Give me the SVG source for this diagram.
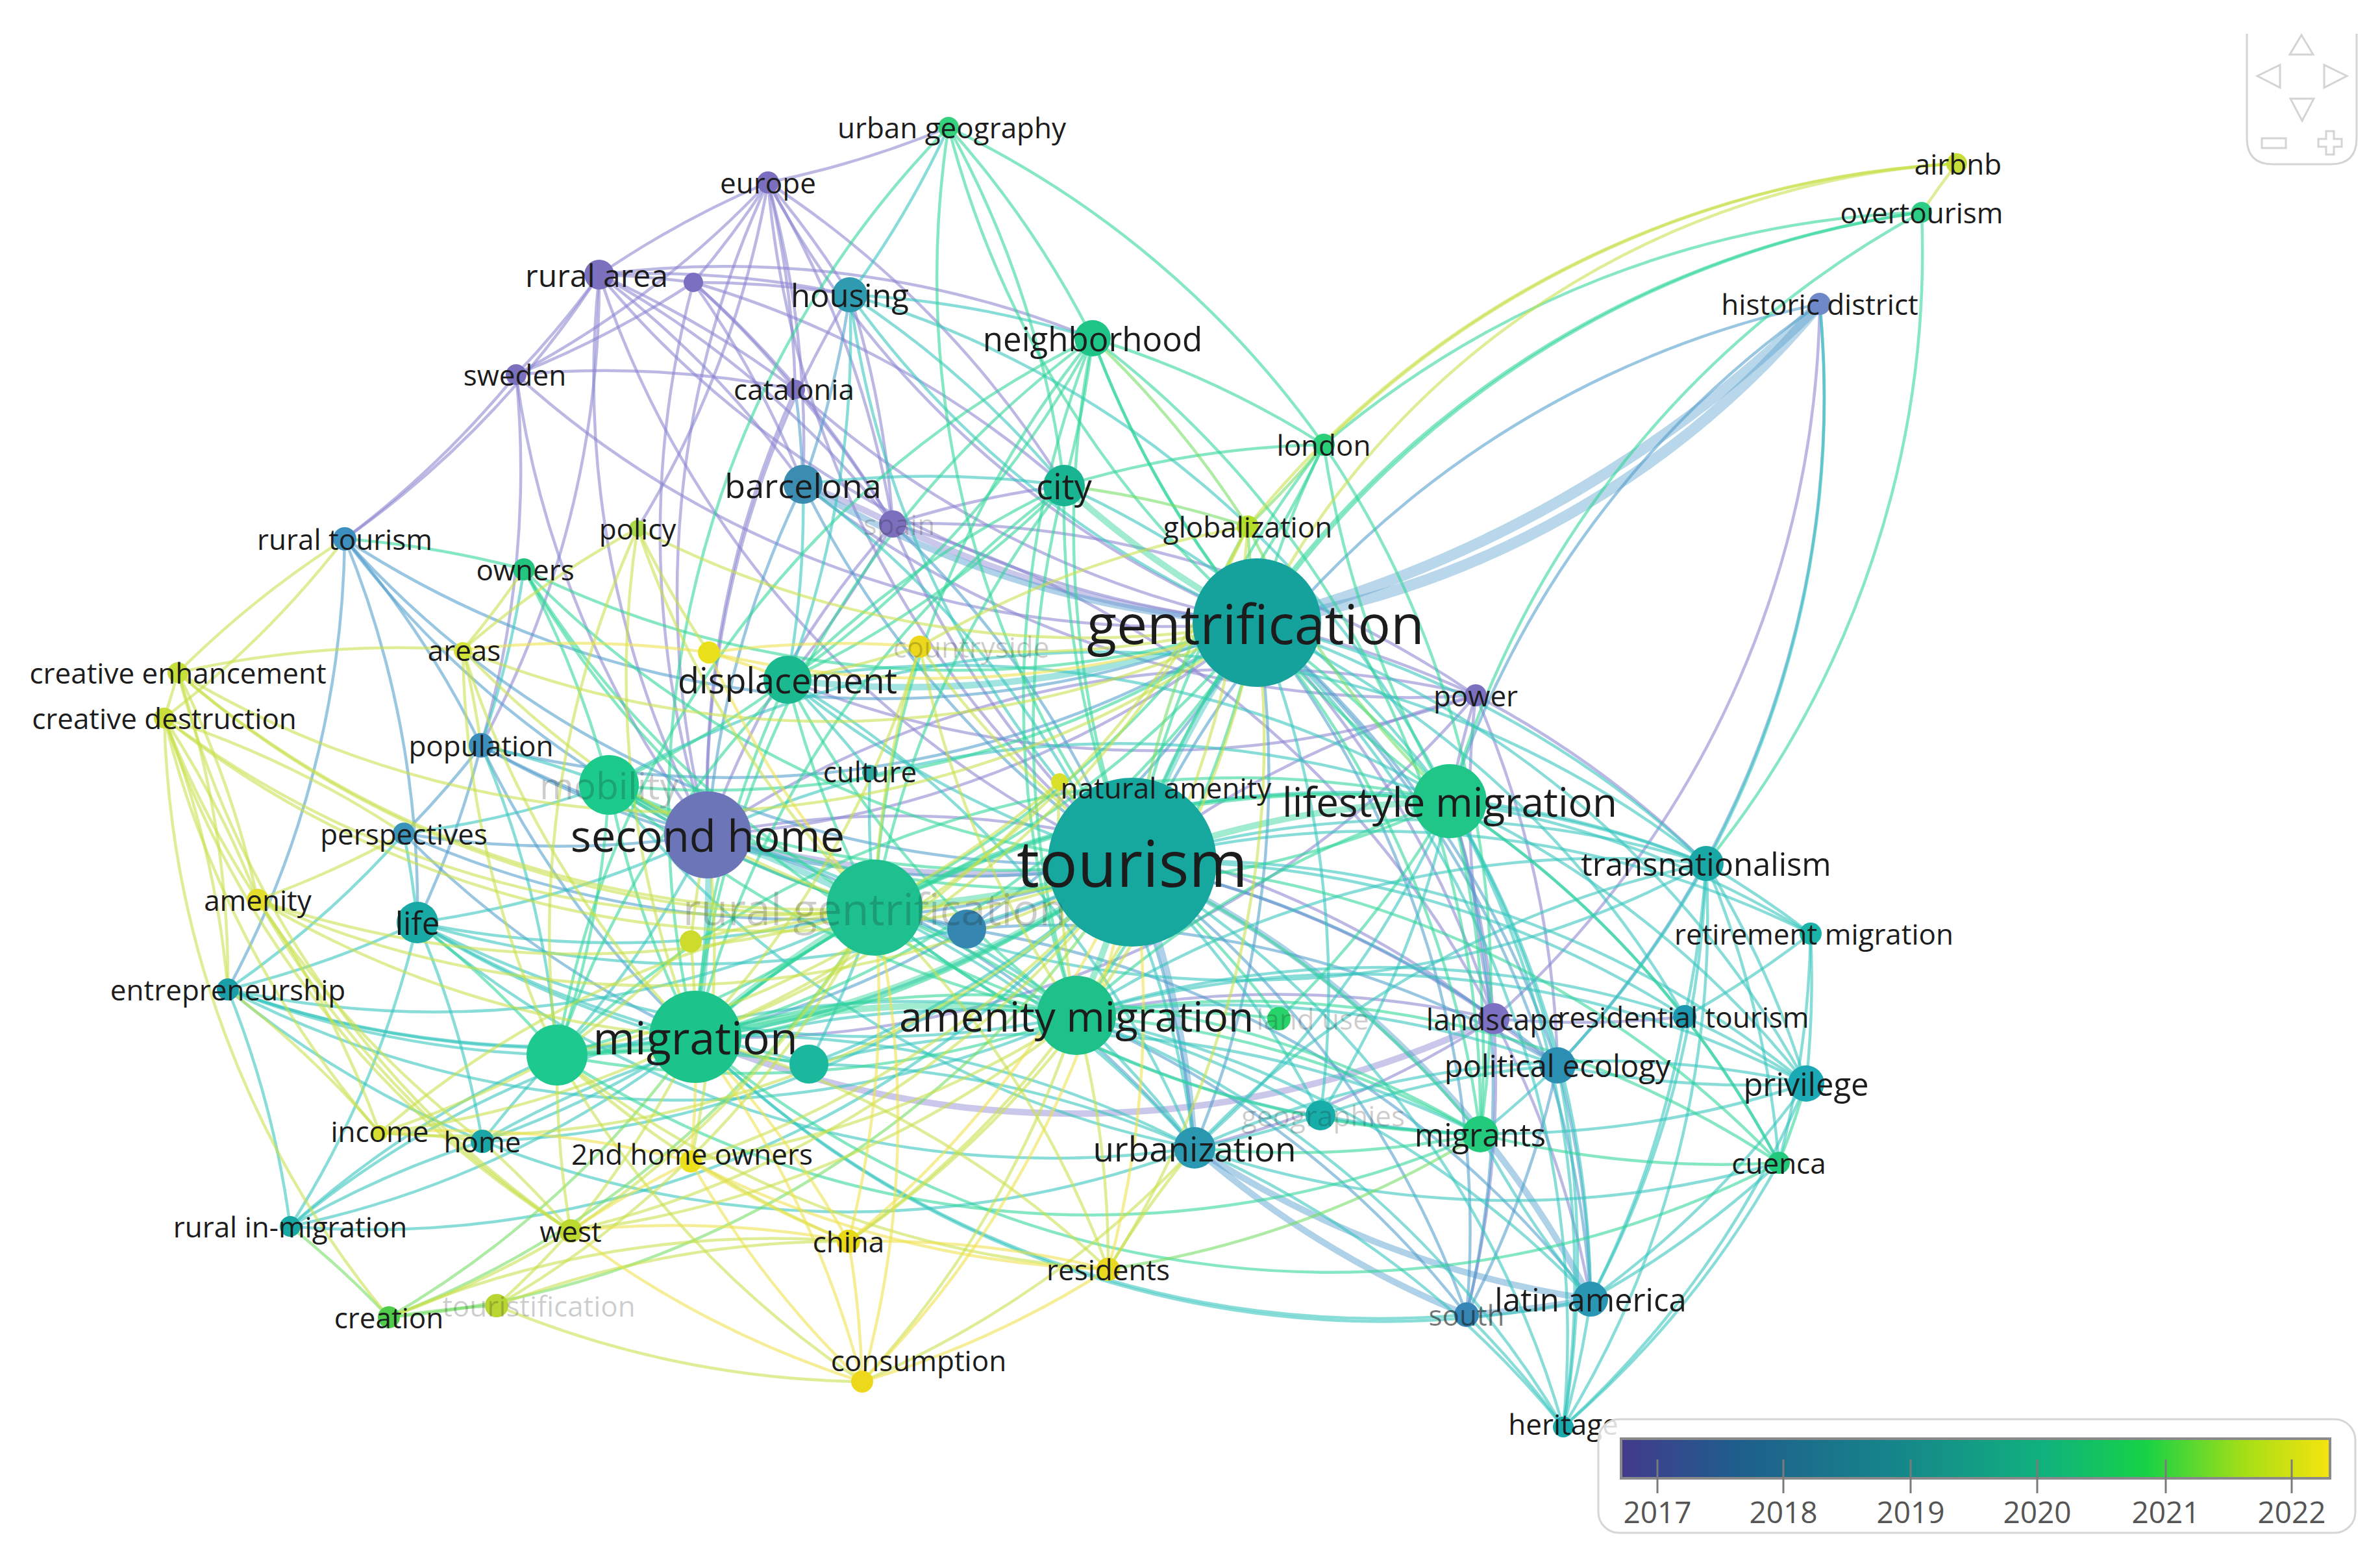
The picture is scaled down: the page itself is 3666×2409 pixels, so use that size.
<svg xmlns="http://www.w3.org/2000/svg" width="3666" height="2409" viewBox="0 0 3666 2409">
<defs>
<linearGradient id="vir" x1="0" y1="0" x2="1" y2="0">
<stop offset="0" stop-color="#433a8c"/>
<stop offset="0.16" stop-color="#1f5d8c"/>
<stop offset="0.4" stop-color="#15888a"/>
<stop offset="0.6" stop-color="#10b27c"/>
<stop offset="0.74" stop-color="#16d246"/>
<stop offset="0.88" stop-color="#a6de16"/>
<stop offset="1" stop-color="#f6e40e"/>
</linearGradient>
<style>
.edges path{fill:none;stroke-width:4.5;stroke-opacity:.58;stroke-linecap:round}
.ep path{stroke:#8a84d0}
.eb path{stroke:#4f9ccb}
.et path{stroke:#33c4bd}
.eg path{stroke:#2fd597}
.el path{stroke:#74dd62}
.ey path{stroke:#c8e04a}
.eyy path{stroke:#eee24a}
.edges path.w{stroke-width:10;stroke-opacity:.45}
.edges path.ww{stroke-width:17;stroke-opacity:.4}
text{font-family:"Open Sans","Noto Sans","Liberation Sans",sans-serif;fill:#1c1c1c;text-anchor:middle;dominant-baseline:central}
.s{font-size:44px}
.m{font-size:49px}
.f{fill-opacity:.22}
.g{fill-opacity:.6}
.lg{font-size:46px;fill:#555}
.nav{fill:none;stroke:#d4d4d4;stroke-width:3}
</style>
</defs>
<rect width="3666" height="2409" fill="#ffffff"/>
<g id="connectors" class="edges">
<g class="ep">
<path d="M1744 1328A1500 1500 0 0 1 1183 281"/>
<path d="M1744 1328A1500 1500 0 0 1 923 423"/>
<path d="M1744 1328A1500 1500 0 0 1 1375 807"/>
<path d="M1744 1328A1500 1500 0 0 1 2273 1071"/>
<path class="w" d="M1744 1328A1500 1500 0 0 1 1090 1286"/>
<path d="M1744 1328A1500 1500 0 0 1 2301 1569"/>
<path d="M1936 959A1500 1500 0 0 1 1183 281"/>
<path d="M1936 959A1500 1500 0 0 1 923 423"/>
<path d="M1936 959A1500 1500 0 0 1 795 577"/>
<path d="M1936 959A1500 1500 0 0 1 1225 600"/>
<path class="w" d="M1936 959A1500 1500 0 0 1 1375 807"/>
<path d="M1936 959A1500 1500 0 0 1 2273 1071"/>
<path d="M1936 959A1500 1500 0 0 1 1090 1286"/>
<path d="M1936 959A1500 1500 0 0 1 2301 1569"/>
<path d="M1090 1286A1500 1500 0 0 1 923 423"/>
<path d="M1090 1286A1500 1500 0 0 1 1183 281"/>
<path d="M1090 1286A1500 1500 0 0 1 795 577"/>
<path d="M1090 1286A1500 1500 0 0 1 1225 600"/>
<path d="M1090 1286A1500 1500 0 0 1 1068 435"/>
<path d="M1090 1286A1500 1500 0 0 1 1375 807"/>
<path d="M1090 1286A1500 1500 0 0 1 1309 454"/>
<path d="M1090 1286A1500 1500 0 0 1 2301 1569"/>
<path d="M1090 1286A1500 1500 0 0 1 2273 1071"/>
<path d="M923 423A1500 1500 0 0 1 1183 281"/>
<path d="M923 423A1500 1500 0 0 1 1068 435"/>
<path d="M923 423A1500 1500 0 0 1 795 577"/>
<path d="M923 423A1500 1500 0 0 1 1309 454"/>
<path d="M923 423A1500 1500 0 0 1 1225 600"/>
<path d="M923 423A1500 1500 0 0 1 1237 746"/>
<path d="M923 423A1500 1500 0 0 1 1375 807"/>
<path d="M923 423A1500 1500 0 0 1 531 830"/>
<path d="M923 423A1500 1500 0 0 1 741 1148"/>
<path d="M923 423A1500 1500 0 0 1 1683 521"/>
<path d="M1183 281A1500 1500 0 0 1 1068 435"/>
<path d="M1183 281A1500 1500 0 0 1 1309 454"/>
<path d="M1183 281A1500 1500 0 0 1 795 577"/>
<path d="M1183 281A1500 1500 0 0 1 1225 600"/>
<path d="M1183 281A1500 1500 0 0 1 1375 807"/>
<path d="M1183 281A1500 1500 0 0 1 1237 746"/>
<path d="M1183 281A1500 1500 0 0 1 1639 748"/>
<path d="M1183 281A1500 1500 0 0 1 982 814"/>
<path d="M1068 435A1500 1500 0 0 1 1309 454"/>
<path d="M1068 435A1500 1500 0 0 1 795 577"/>
<path d="M1068 435A1500 1500 0 0 1 1225 600"/>
<path d="M1068 435A1500 1500 0 0 1 1375 807"/>
<path d="M1068 435A1500 1500 0 0 1 1237 746"/>
<path d="M1068 435A1500 1500 0 0 1 1639 748"/>
<path d="M795 577A1500 1500 0 0 1 531 830"/>
<path d="M795 577A1500 1500 0 0 1 1225 600"/>
<path d="M795 577A1500 1500 0 0 1 741 1148"/>
<path d="M1225 600A1500 1500 0 0 1 1375 807"/>
<path d="M1309 454A1500 1500 0 0 1 1375 807"/>
<path class="w" d="M1237 746A1500 1500 0 0 1 1375 807"/>
<path d="M1375 807A1500 1500 0 0 1 1213 1047"/>
<path d="M1375 807A1500 1500 0 0 1 2273 1071"/>
<path d="M1375 807A1500 1500 0 0 1 2301 1569"/>
<path d="M1375 807A1500 1500 0 0 1 1639 748"/>
<path d="M1461 196A1500 1500 0 0 1 1183 281"/>
<path d="M2803 468A1500 1500 0 0 1 2301 1569"/>
<path d="M2233 1234A1500 1500 0 0 1 2301 1569"/>
<path d="M2233 1234A1500 1500 0 0 1 2273 1071"/>
<path d="M1658 1564A1500 1500 0 0 1 2301 1569"/>
<path d="M2595 1566A1500 1500 0 0 1 2301 1569"/>
<path d="M2399 1641A1500 1500 0 0 1 2301 1569"/>
<path d="M2301 1569A1500 1500 0 0 1 2273 1071"/>
<path d="M2301 1569A1500 1500 0 0 1 1840 1768"/>
<path class="w" d="M2301 1569A1500 1500 0 0 1 1071 1597"/>
<path d="M2301 1569A1500 1500 0 0 1 2450 2001"/>
<path d="M2301 1569A1500 1500 0 0 1 2259 2025"/>
<path d="M2273 1071A1500 1500 0 0 1 1213 1047"/>
<path d="M2273 1071A1500 1500 0 0 1 1237 746"/>
<path d="M2273 1071A1500 1500 0 0 1 1071 1597"/>
<path d="M2273 1071A1500 1500 0 0 1 2399 1641"/>
<path d="M2273 1071A1500 1500 0 0 1 2628 1330"/>
</g>
<g class="eb">
<path d="M1744 1328A1500 1500 0 0 1 1237 746"/>
<path d="M1744 1328A1500 1500 0 0 1 531 830"/>
<path d="M1744 1328A1500 1500 0 0 1 741 1148"/>
<path d="M1744 1328A1500 1500 0 0 1 622 1284"/>
<path d="M1744 1328A1500 1500 0 0 1 1489 1431"/>
<path d="M1744 1328A1500 1500 0 0 1 2399 1641"/>
<path class="w" d="M1744 1328A1500 1500 0 0 1 1840 1768"/>
<path class="w" d="M1744 1328A1500 1500 0 0 1 2450 2001"/>
<path d="M1744 1328A1500 1500 0 0 1 2259 2025"/>
<path d="M1744 1328A1500 1500 0 0 1 2803 468"/>
<path class="w" d="M1936 959A1500 1500 0 0 1 1237 746"/>
<path d="M1936 959A1500 1500 0 0 1 531 830"/>
<path d="M1936 959A1500 1500 0 0 1 741 1148"/>
<path d="M1936 959A1500 1500 0 0 1 1489 1431"/>
<path d="M1936 959A1500 1500 0 0 1 2399 1641"/>
<path d="M1936 959A1500 1500 0 0 1 1840 1768"/>
<path d="M1936 959A1500 1500 0 0 1 2450 2001"/>
<path d="M1936 959A1500 1500 0 0 1 2259 2025"/>
<path class="ww" d="M1936 959A1400 1400 0 0 0 2803 468"/>
<path class="ww" d="M1936 959A1900 1900 0 0 0 2803 468"/>
<path d="M1090 1286A1500 1500 0 0 1 741 1148"/>
<path d="M1090 1286A1500 1500 0 0 1 531 830"/>
<path d="M1090 1286A1500 1500 0 0 1 622 1284"/>
<path d="M1090 1286A1500 1500 0 0 1 1237 746"/>
<path d="M1090 1286A1500 1500 0 0 1 1840 1768"/>
<path d="M1071 1597A1500 1500 0 0 1 622 1284"/>
<path d="M1071 1597A1500 1500 0 0 1 741 1148"/>
<path d="M1347 1398A1500 1500 0 0 1 1489 1431"/>
<path d="M1658 1564A1500 1500 0 0 1 2259 2025"/>
<path d="M2233 1234A1500 1500 0 0 1 2259 2025"/>
<path d="M2233 1234A1500 1500 0 0 1 2803 468"/>
<path d="M1225 600A1500 1500 0 0 1 1237 746"/>
<path d="M1309 454A1500 1500 0 0 1 1237 746"/>
<path d="M1375 807A1500 1500 0 0 1 1840 1768"/>
<path d="M2803 468A1500 1500 0 0 1 2399 1641"/>
<path d="M531 830A1500 1500 0 0 1 351 1524"/>
<path d="M531 830A1500 1500 0 0 1 741 1148"/>
<path d="M531 830A1500 1500 0 0 1 643 1421"/>
<path d="M741 1148A1500 1500 0 0 1 622 1284"/>
<path d="M741 1148A1500 1500 0 0 1 643 1421"/>
<path d="M2399 1641A1500 1500 0 0 1 2450 2001"/>
<path d="M2399 1641A1500 1500 0 0 1 2259 2025"/>
<path d="M1489 1431A1500 1500 0 0 1 2399 1641"/>
<path d="M1489 1431A1500 1500 0 0 1 938 1209"/>
<path d="M1489 1431A1500 1500 0 0 1 1071 1597"/>
<path d="M1489 1431A1500 1500 0 0 1 2450 2001"/>
<path class="w" d="M2450 2001A1500 1500 0 0 1 2259 2025"/>
<path class="w" d="M2450 2001A1500 1500 0 0 1 1840 1768"/>
<path class="w" d="M2259 2025A1500 1500 0 0 1 1840 1768"/>
</g>
<g class="et">
<path class="w" d="M1744 1328A1500 1500 0 0 1 1936 959"/>
<path d="M1744 1328A1500 1500 0 0 1 1309 454"/>
<path d="M1744 1328A1500 1500 0 0 1 1213 1047"/>
<path d="M1744 1328A1500 1500 0 0 1 2628 1330"/>
<path d="M1744 1328A1500 1500 0 0 1 643 1421"/>
<path d="M1744 1328A1500 1500 0 0 1 2789 1438"/>
<path d="M1744 1328A1500 1500 0 0 1 351 1524"/>
<path d="M1744 1328A1500 1500 0 0 1 2595 1566"/>
<path d="M1744 1328A1500 1500 0 0 1 1246 1639"/>
<path d="M1744 1328A1500 1500 0 0 1 2782 1669"/>
<path d="M1744 1328A1500 1500 0 0 1 2034 1718"/>
<path d="M1744 1328A1500 1500 0 0 1 743 1758"/>
<path d="M1744 1328A1500 1500 0 0 1 447 1889"/>
<path d="M1744 1328A1500 1500 0 0 1 2408 2198"/>
<path d="M1936 959A1500 1500 0 0 1 1309 454"/>
<path class="w" d="M1936 959A1500 1500 0 0 1 1213 1047"/>
<path d="M1936 959A1500 1500 0 0 1 2628 1330"/>
<path d="M1936 959A1500 1500 0 0 1 2595 1566"/>
<path d="M1936 959A1500 1500 0 0 1 2782 1669"/>
<path d="M1936 959A1500 1500 0 0 1 2034 1718"/>
<path d="M1936 959A1500 1500 0 0 1 2408 2198"/>
<path class="w" d="M1090 1286A1500 1500 0 0 1 1347 1398"/>
<path class="w" d="M1090 1286A1500 1500 0 0 1 1071 1597"/>
<path d="M1090 1286A1500 1500 0 0 1 858 1625"/>
<path d="M1090 1286A1500 1500 0 0 1 643 1421"/>
<path d="M1090 1286A1500 1500 0 0 1 1658 1564"/>
<path d="M1090 1286A1500 1500 0 0 1 2233 1234"/>
<path d="M1071 1597A1500 1500 0 0 1 643 1421"/>
<path d="M1071 1597A1500 1500 0 0 1 743 1758"/>
<path d="M1071 1597A1500 1500 0 0 1 351 1524"/>
<path d="M1071 1597A1500 1500 0 0 1 447 1889"/>
<path d="M1071 1597A1500 1500 0 0 1 1840 1768"/>
<path d="M1071 1597A1500 1500 0 0 1 1246 1639"/>
<path d="M1071 1597A1500 1500 0 0 1 2628 1330"/>
<path d="M1347 1398A1500 1500 0 0 1 1340 1190"/>
<path d="M1347 1398A1500 1500 0 0 1 351 1524"/>
<path d="M1347 1398A1500 1500 0 0 1 643 1421"/>
<path d="M1347 1398A1500 1500 0 0 1 1840 1768"/>
<path d="M1347 1398A1500 1500 0 0 1 1246 1639"/>
<path d="M1658 1564A1500 1500 0 0 1 1840 1768"/>
<path d="M1658 1564A1500 1500 0 0 1 2399 1641"/>
<path d="M1658 1564A1500 1500 0 0 1 2450 2001"/>
<path d="M1658 1564A1500 1500 0 0 1 2782 1669"/>
<path d="M1658 1564A1500 1500 0 0 1 2628 1330"/>
<path d="M1658 1564A1500 1500 0 0 1 2034 1718"/>
<path d="M1658 1564A1500 1500 0 0 1 2408 2198"/>
<path d="M1658 1564A1500 1500 0 0 1 2595 1566"/>
<path d="M2233 1234A1500 1500 0 0 1 2628 1330"/>
<path d="M2233 1234A1500 1500 0 0 1 2789 1438"/>
<path d="M2233 1234A1500 1500 0 0 1 2595 1566"/>
<path d="M2233 1234A1500 1500 0 0 1 2782 1669"/>
<path d="M2233 1234A1500 1500 0 0 1 2450 2001"/>
<path d="M2233 1234A1500 1500 0 0 1 2399 1641"/>
<path d="M2233 1234A1500 1500 0 0 1 2408 2198"/>
<path d="M2233 1234A1500 1500 0 0 1 1840 1768"/>
<path d="M2233 1234A1500 1500 0 0 1 2034 1718"/>
<path d="M1309 454A1500 1500 0 0 1 1683 521"/>
<path d="M1309 454A1500 1500 0 0 1 1639 748"/>
<path d="M1309 454A1500 1500 0 0 1 1213 1047"/>
<path d="M1309 454A1500 1500 0 0 1 2233 1234"/>
<path d="M1237 746A1500 1500 0 0 1 1639 748"/>
<path d="M1237 746A1500 1500 0 0 1 1213 1047"/>
<path d="M1237 746A1500 1500 0 0 1 1840 1768"/>
<path d="M1461 196A1500 1500 0 0 1 1309 454"/>
<path d="M2803 468A1500 1500 0 0 1 2628 1330"/>
<path d="M807 877A1500 1500 0 0 1 741 1148"/>
<path d="M741 1148A1500 1500 0 0 1 938 1209"/>
<path d="M741 1148A1500 1500 0 0 1 858 1625"/>
<path d="M622 1284A1500 1500 0 0 1 643 1421"/>
<path d="M622 1284A1500 1500 0 0 1 351 1524"/>
<path d="M643 1421A1500 1500 0 0 1 351 1524"/>
<path d="M643 1421A1500 1500 0 0 1 743 1758"/>
<path d="M643 1421A1500 1500 0 0 1 447 1889"/>
<path d="M643 1421A1500 1500 0 0 0 1658 1564"/>
<path d="M351 1524A1500 1500 0 0 1 447 1889"/>
<path d="M351 1524A1500 1500 0 0 0 1658 1564"/>
<path d="M447 1889A1500 1500 0 0 1 743 1758"/>
<path d="M447 1889A1500 1500 0 0 1 858 1625"/>
<path d="M447 1889A1500 1500 0 0 1 1658 1564"/>
<path d="M743 1758A1500 1500 0 0 1 858 1625"/>
<path d="M743 1758A1500 1500 0 0 1 1658 1564"/>
<path d="M1213 1047A1500 1500 0 0 1 1340 1190"/>
<path d="M1213 1047A1500 1500 0 0 1 2233 1234"/>
<path d="M1213 1047A1500 1500 0 0 1 1840 1768"/>
<path d="M1639 748A1500 1500 0 0 1 2233 1234"/>
<path d="M938 1209A1500 1500 0 0 1 622 1284"/>
<path d="M938 1209A1500 1500 0 0 0 1840 1768"/>
<path d="M938 1209A1500 1500 0 0 1 2628 1330"/>
<path d="M858 1625A1500 1500 0 0 1 351 1524"/>
<path d="M1246 1639A1500 1500 0 0 1 1840 1768"/>
<path d="M1246 1639A1500 1500 0 0 1 2280 1747"/>
<path d="M1246 1639A1500 1500 0 0 1 643 1421"/>
<path d="M1840 1768A1500 1500 0 0 1 2782 1669"/>
<path d="M1840 1768A1500 1500 0 0 1 2628 1330"/>
<path d="M1840 1768A1500 1500 0 0 1 643 1421"/>
<path d="M1840 1768A1500 1500 0 0 1 351 1524"/>
<path d="M2034 1718A1500 1500 0 0 1 2399 1641"/>
<path d="M2450 2001A1500 1500 0 0 1 1071 1597"/>
<path d="M2259 2025A1500 1500 0 0 1 1071 1597"/>
<path d="M2628 1330A1500 1500 0 0 1 1347 1398"/>
<path d="M2782 1669A1500 1500 0 0 1 1347 1398"/>
<path d="M2740 1791A1500 1500 0 0 1 1840 1768"/>
<path d="M2628 1330A1500 1500 0 0 1 2789 1438"/>
<path d="M2628 1330A1500 1500 0 0 1 2595 1566"/>
<path d="M2628 1330A1500 1500 0 0 1 2782 1669"/>
<path d="M2628 1330A1500 1500 0 0 1 2740 1791"/>
<path d="M2628 1330A1500 1500 0 0 1 2450 2001"/>
<path d="M2628 1330A1500 1500 0 0 1 2399 1641"/>
<path d="M2628 1330A1500 1500 0 0 1 2408 2198"/>
<path d="M2789 1438A1500 1500 0 0 1 2782 1669"/>
<path d="M2789 1438A1500 1500 0 0 1 2595 1566"/>
<path d="M2789 1438A1500 1500 0 0 1 2740 1791"/>
<path d="M2595 1566A1500 1500 0 0 1 2782 1669"/>
<path d="M2595 1566A1500 1500 0 0 1 2450 2001"/>
<path d="M2595 1566A1500 1500 0 0 1 2740 1791"/>
<path d="M2782 1669A1500 1500 0 0 1 2450 2001"/>
<path d="M2782 1669A1500 1500 0 0 1 2408 2198"/>
<path d="M2782 1669A1500 1500 0 0 1 2399 1641"/>
<path d="M2399 1641A1500 1500 0 0 1 2280 1747"/>
<path d="M2399 1641A1500 1500 0 0 1 2408 2198"/>
<path d="M2450 2001A1500 1500 0 0 1 2408 2198"/>
<path d="M2450 2001A1500 1500 0 0 1 2280 1747"/>
<path d="M2259 2025A1500 1500 0 0 1 2408 2198"/>
<path d="M2280 1747A1500 1500 0 0 1 2034 1718"/>
<path d="M2034 1718A1500 1500 0 0 1 1840 1768"/>
<path d="M1840 1768A1500 1500 0 0 1 2408 2198"/>
<path d="M2740 1791A1500 1500 0 0 1 2408 2198"/>
<path d="M2740 1791A1500 1500 0 0 1 2450 2001"/>
</g>
<g class="eg">
<path d="M1744 1328A1500 1500 0 0 1 1461 196"/>
<path d="M1744 1328A1500 1500 0 0 1 1683 521"/>
<path d="M1744 1328A1500 1500 0 0 1 1639 748"/>
<path d="M1744 1328A1500 1500 0 0 1 2039 685"/>
<path d="M1744 1328A1500 1500 0 0 1 807 877"/>
<path d="M1744 1328A1500 1500 0 0 1 938 1209"/>
<path class="w" d="M1744 1328A1500 1500 0 0 1 2233 1234"/>
<path class="w" d="M1744 1328A1500 1500 0 0 1 1347 1398"/>
<path class="w" d="M1744 1328A1500 1500 0 0 1 1658 1564"/>
<path d="M1744 1328A1500 1500 0 0 1 1970 1569"/>
<path class="w" d="M1744 1328A1500 1500 0 0 1 1071 1597"/>
<path d="M1744 1328A1500 1500 0 0 1 858 1625"/>
<path d="M1744 1328A1500 1500 0 0 1 2280 1747"/>
<path d="M1744 1328A1500 1500 0 0 1 2740 1791"/>
<path d="M1744 1328A1500 1500 0 0 1 2960 327"/>
<path d="M1936 959A1500 1500 0 0 1 1461 196"/>
<path d="M1936 959A1500 1500 0 0 1 1683 521"/>
<path class="w" d="M1936 959A1500 1500 0 0 1 1639 748"/>
<path d="M1936 959A1500 1500 0 0 1 2039 685"/>
<path d="M1936 959A1500 1500 0 0 1 807 877"/>
<path d="M1936 959A1500 1500 0 0 1 938 1209"/>
<path d="M1936 959A1500 1500 0 0 1 2233 1234"/>
<path d="M1936 959A1500 1500 0 0 1 1347 1398"/>
<path d="M1936 959A1500 1500 0 0 1 1658 1564"/>
<path d="M1936 959A1500 1500 0 0 1 1071 1597"/>
<path d="M1936 959A1500 1500 0 0 1 2280 1747"/>
<path d="M1936 959A1500 1500 0 0 1 2960 327"/>
<path d="M1090 1286A1500 1500 0 0 1 938 1209"/>
<path class="w" d="M1071 1597A1500 1500 0 0 1 858 1625"/>
<path class="w" d="M1071 1597A1500 1500 0 0 1 1347 1398"/>
<path class="w" d="M1071 1597A1500 1500 0 0 1 1658 1564"/>
<path d="M1071 1597A1500 1500 0 0 1 2233 1234"/>
<path d="M1071 1597A1500 1500 0 0 1 938 1209"/>
<path d="M1071 1597A1500 1500 0 0 1 1683 521"/>
<path d="M1071 1597A1500 1500 0 0 1 1639 748"/>
<path d="M1071 1597A1500 1500 0 0 1 1213 1047"/>
<path d="M1071 1597A1500 1500 0 0 1 2280 1747"/>
<path d="M1347 1398A1500 1500 0 0 1 938 1209"/>
<path d="M1347 1398A1500 1500 0 0 1 858 1625"/>
<path d="M1347 1398A1500 1500 0 0 1 1213 1047"/>
<path d="M1347 1398A1500 1500 0 0 1 1658 1564"/>
<path d="M1347 1398A1500 1500 0 0 1 2233 1234"/>
<path d="M1347 1398A1500 1500 0 0 1 807 877"/>
<path d="M1347 1398A1500 1500 0 0 1 1683 521"/>
<path d="M1347 1398A1500 1500 0 0 1 1639 748"/>
<path d="M1658 1564A1500 1500 0 0 1 2233 1234"/>
<path d="M1658 1564A1500 1500 0 0 1 858 1625"/>
<path d="M1658 1564A1500 1500 0 0 1 1970 1569"/>
<path d="M1658 1564A1500 1500 0 0 1 2280 1747"/>
<path d="M1658 1564A1500 1500 0 0 1 1683 521"/>
<path d="M1658 1564A1500 1500 0 0 1 1639 748"/>
<path d="M1658 1564A1500 1500 0 0 1 2740 1791"/>
<path d="M2233 1234A1500 1500 0 0 1 2740 1791"/>
<path d="M2233 1234A1500 1500 0 0 1 2280 1747"/>
<path d="M2233 1234A1500 1500 0 0 1 2039 685"/>
<path d="M2233 1234A1500 1500 0 0 1 1683 521"/>
<path d="M2233 1234A1500 1500 0 0 1 2960 327"/>
<path d="M2233 1234A1500 1500 0 0 1 938 1209"/>
<path d="M2233 1234A1500 1500 0 0 1 1970 1569"/>
<path d="M1461 196A1500 1500 0 0 1 1683 521"/>
<path d="M1461 196A1500 1500 0 0 1 1639 748"/>
<path d="M1461 196A1500 1500 0 0 1 2039 685"/>
<path d="M1461 196A1500 1500 0 0 0 1071 1597"/>
<path d="M1683 521A1500 1500 0 0 1 1639 748"/>
<path d="M1683 521A1500 1500 0 0 1 2039 685"/>
<path d="M1683 521A1500 1500 0 0 1 1213 1047"/>
<path d="M1683 521A1500 1500 0 0 1 2280 1747"/>
<path d="M1639 748A1500 1500 0 0 1 2039 685"/>
<path d="M1639 748A1500 1500 0 0 1 1213 1047"/>
<path d="M2039 685A1500 1500 0 0 1 2960 327"/>
<path d="M2039 685A1500 1500 0 0 1 1347 1398"/>
<path d="M2039 685A1500 1500 0 0 1 2280 1747"/>
<path d="M2960 327A1500 1500 0 0 1 2628 1330"/>
<path d="M531 830A1500 1500 0 0 1 807 877"/>
<path d="M807 877A1500 1500 0 0 1 938 1209"/>
<path d="M807 877A1500 1500 0 0 0 1658 1564"/>
<path d="M643 1421A1500 1500 0 0 1 858 1625"/>
<path d="M1213 1047A1500 1500 0 0 1 938 1209"/>
<path d="M1213 1047A1500 1500 0 0 0 1658 1564"/>
<path d="M938 1209A1500 1500 0 0 1 858 1625"/>
<path d="M938 1209A1500 1500 0 0 0 1658 1564"/>
<path d="M858 1625A1500 1500 0 0 1 1246 1639"/>
<path d="M858 1625A1500 1500 0 0 1 2233 1234"/>
<path d="M858 1625A1500 1500 0 0 1 1639 748"/>
<path d="M858 1625A1500 1500 0 0 1 1683 521"/>
<path d="M2280 1747A1500 1500 0 0 1 1347 1398"/>
<path d="M2280 1747A1500 1500 0 0 1 858 1625"/>
<path d="M2740 1791A1500 1500 0 0 1 1071 1597"/>
<path d="M2740 1791A1500 1500 0 0 1 2280 1747"/>
<path d="M2782 1669A1500 1500 0 0 1 2740 1791"/>
<path d="M2280 1747A1500 1500 0 0 1 1840 1768"/>
</g>
<g class="el">
<path d="M1744 1328A1500 1500 0 0 1 1922 811"/>
<path d="M1744 1328A1500 1500 0 0 1 599 2029"/>
<path d="M1936 959A1500 1500 0 0 1 1922 811"/>
<path d="M1071 1597A1500 1500 0 0 1 599 2029"/>
<path d="M1347 1398A1500 1500 0 0 1 599 2029"/>
<path d="M2233 1234A1500 1500 0 0 1 1922 811"/>
<path d="M1683 521A1500 1500 0 0 1 1922 811"/>
<path d="M1639 748A1500 1500 0 0 1 1922 811"/>
<path d="M2039 685A1500 1500 0 0 1 1922 811"/>
<path d="M447 1889A1500 1500 0 0 1 599 2029"/>
<path d="M599 2029A1500 1500 0 0 1 765 2011"/>
<path d="M1707 1955A1500 1500 0 0 0 2280 1747"/>
</g>
<g class="ey">
<path d="M1744 1328A1500 1500 0 0 1 1417 996"/>
<path d="M1744 1328A1500 1500 0 0 1 274 1036"/>
<path d="M1744 1328A1500 1500 0 0 1 253 1106"/>
<path d="M1744 1328A1500 1500 0 0 1 1632 1204"/>
<path d="M1744 1328A1500 1500 0 0 1 397 1386"/>
<path d="M1744 1328A1500 1500 0 0 1 585 1745"/>
<path d="M1744 1328A1500 1500 0 0 1 1064 1789"/>
<path d="M1744 1328A1500 1500 0 0 1 879 1896"/>
<path d="M1936 959A1500 1500 0 0 1 982 814"/>
<path d="M1936 959A1500 1500 0 0 1 1417 996"/>
<path d="M1936 959A1500 1500 0 0 1 1307 1912"/>
<path d="M1936 959A1500 1500 0 0 1 1707 1955"/>
<path d="M1936 959A1300 1300 0 0 1 3014 252"/>
<path d="M1936 959A1500 1500 0 0 1 274 1036"/>
<path d="M1936 959A1500 1500 0 0 1 713 1001"/>
<path d="M1090 1286A1500 1500 0 0 1 1064 1789"/>
<path d="M1071 1597A1500 1500 0 0 1 585 1745"/>
<path d="M1071 1597A1500 1500 0 0 1 397 1386"/>
<path d="M1071 1597A1500 1500 0 0 1 879 1896"/>
<path d="M1071 1597A1500 1500 0 0 1 1707 1955"/>
<path d="M1347 1398A1500 1500 0 0 1 1417 996"/>
<path d="M1347 1398A1500 1500 0 0 1 713 1001"/>
<path d="M1347 1398A1500 1500 0 0 1 982 814"/>
<path d="M1347 1398A1500 1500 0 0 1 1707 1955"/>
<path d="M1347 1398A1500 1500 0 0 1 879 1896"/>
<path d="M1347 1398A1500 1500 0 0 1 765 2011"/>
<path d="M1347 1398A1500 1500 0 0 1 397 1386"/>
<path d="M1347 1398A1500 1500 0 0 1 253 1106"/>
<path d="M1347 1398A1500 1500 0 0 1 274 1036"/>
<path d="M1658 1564A1500 1500 0 0 1 1707 1955"/>
<path d="M1658 1564A1500 1500 0 0 1 1307 1912"/>
<path d="M1658 1564A1500 1500 0 0 1 1632 1204"/>
<path d="M1658 1564A1500 1500 0 0 1 1064 1789"/>
<path d="M1658 1564A1500 1500 0 0 1 879 1896"/>
<path d="M2039 685A1500 1500 0 0 1 3014 252"/>
<path d="M2960 327A1500 1500 0 0 1 3014 252"/>
<path d="M3014 252A1500 1500 0 0 0 1922 811"/>
<path d="M274 1036A1500 1500 0 0 1 253 1106"/>
<path d="M274 1036A1500 1500 0 0 1 531 830"/>
<path d="M274 1036A1500 1500 0 0 1 397 1386"/>
<path d="M274 1036A1500 1500 0 0 1 713 1001"/>
<path d="M274 1036A1500 1500 0 0 1 351 1524"/>
<path d="M274 1036A1500 1500 0 0 0 879 1896"/>
<path d="M253 1106A1500 1500 0 0 1 397 1386"/>
<path d="M253 1106A1500 1500 0 0 1 351 1524"/>
<path d="M253 1106A1500 1500 0 0 0 599 2029"/>
<path d="M253 1106A1500 1500 0 0 0 585 1745"/>
<path d="M253 1106A1500 1500 0 0 0 743 1758"/>
<path d="M253 1106A1500 1500 0 0 0 879 1896"/>
<path d="M253 1106A1500 1500 0 0 1 622 1284"/>
<path d="M531 830A1500 1500 0 0 1 253 1106"/>
<path d="M807 877A1500 1500 0 0 1 713 1001"/>
<path d="M622 1284A1500 1500 0 0 1 397 1386"/>
<path d="M351 1524A1500 1500 0 0 1 585 1745"/>
<path d="M585 1745A1500 1500 0 0 1 743 1758"/>
<path d="M585 1745A1500 1500 0 0 1 1347 1398"/>
<path d="M743 1758A1500 1500 0 0 1 879 1896"/>
<path d="M879 1896A1500 1500 0 0 1 599 2029"/>
<path d="M879 1896A1500 1500 0 0 1 765 2011"/>
<path d="M879 1896A1500 1500 0 0 1 858 1625"/>
<path d="M599 2029A1500 1500 0 0 1 1307 1912"/>
<path d="M765 2011A1500 1500 0 0 1 1307 1912"/>
<path d="M765 2011A1500 1500 0 0 0 1328 2128"/>
<path d="M1707 1955A1500 1500 0 0 1 1840 1768"/>
<path d="M1707 1955A1500 1500 0 0 1 858 1625"/>
<path d="M1307 1912A1500 1500 0 0 1 858 1625"/>
<path d="M1328 2128A1500 1500 0 0 1 858 1625"/>
<path d="M1328 2128A1500 1500 0 0 0 1658 1564"/>
<path d="M397 1386A1500 1500 0 0 1 585 1745"/>
<path d="M397 1386A1500 1500 0 0 0 879 1896"/>
<path d="M713 1001A1500 1500 0 0 1 982 814"/>
<path d="M713 1001A1500 1500 0 0 1 741 1148"/>
<path d="M713 1001A1500 1500 0 0 0 858 1625"/>
<path d="M713 1001A1500 1500 0 0 0 1071 1597"/>
<path d="M982 814A1500 1500 0 0 0 1071 1597"/>
<path d="M982 814A1500 1500 0 0 0 858 1625"/>
<path d="M1092 1005A1500 1500 0 0 1 982 814"/>
<path d="M1417 996A1500 1500 0 0 1 1213 1047"/>
<path d="M1417 996A1500 1500 0 0 1 1922 811"/>
<path d="M1417 996A1500 1500 0 0 0 1658 1564"/>
<path d="M1417 996A1500 1500 0 0 1 1071 1597"/>
<path d="M1922 811A1500 1500 0 0 1 1658 1564"/>
<path d="M1922 811A1500 1500 0 0 1 1071 1597"/>
<path d="M1922 811A1500 1500 0 0 1 858 1625"/>
<path d="M1632 1204A1500 1500 0 0 1 1071 1597"/>
<path d="M1632 1204A1500 1500 0 0 1 1347 1398"/>
<path d="M858 1625A1500 1500 0 0 1 585 1745"/>
<path d="M1064 1450A1500 1500 0 0 1 1071 1597"/>
<path d="M1064 1450A1500 1500 0 0 1 1090 1286"/>
<path d="M1064 1450A1500 1500 0 0 1 858 1625"/>
<path d="M1064 1450A1500 1500 0 0 1 1347 1398"/>
<path d="M1840 1768A1500 1500 0 0 1 1328 2128"/>
</g>
<g class="eyy">
<path d="M1744 1328A1500 1500 0 0 1 1307 1912"/>
<path d="M1744 1328A1500 1500 0 0 1 1707 1955"/>
<path d="M1744 1328A1500 1500 0 0 1 1328 2128"/>
<path d="M1936 959A1500 1500 0 0 1 1092 1005"/>
<path d="M1071 1597A1500 1500 0 0 1 1307 1912"/>
<path d="M1071 1597A1500 1500 0 0 1 1328 2128"/>
<path d="M1071 1597A1500 1500 0 0 1 1064 1789"/>
<path d="M1347 1398A1500 1500 0 0 1 1092 1005"/>
<path d="M1347 1398A1500 1500 0 0 1 1307 1912"/>
<path d="M1347 1398A1500 1500 0 0 1 1328 2128"/>
<path d="M585 1745A1500 1500 0 0 1 1064 1789"/>
<path d="M879 1896A1500 1500 0 0 1 1307 1912"/>
<path d="M879 1896A1500 1500 0 0 1 1064 1789"/>
<path d="M1307 1912A1500 1500 0 0 1 1328 2128"/>
<path d="M1307 1912A1500 1500 0 0 1 1707 1955"/>
<path d="M1307 1912A1500 1500 0 0 1 1064 1789"/>
<path d="M1328 2128A1500 1500 0 0 0 1707 1955"/>
<path d="M1328 2128A1500 1500 0 0 1 879 1896"/>
<path d="M1328 2128A1500 1500 0 0 1 1064 1789"/>
<path d="M1707 1955A1500 1500 0 0 1 1064 1789"/>
<path d="M713 1001A1500 1500 0 0 1 1092 1005"/>
<path d="M1092 1005A1500 1500 0 0 1 1417 996"/>
<path d="M1092 1005A1500 1500 0 0 1 1213 1047"/>
</g>
</g>
<g id="nodes">
<g id="n-tourism"><circle cx="1744" cy="1328" r="130" fill="#16a89f"/><text x="1744" y="1328" font-size="98">tourism</text></g>
<g id="n-gentrification"><circle cx="1936" cy="959" r="99" fill="#15a19c"/><text x="1934" y="959" font-size="84">gentrification</text></g>
<g id="n-blue-node"><circle cx="1489" cy="1431" r="30" fill="#3587b1"/></g>
<g id="n-rural-gentrification"><circle cx="1347" cy="1398" r="74" fill="#1dc08e"/><text class="f" x="1347" y="1398" font-size="68">rural gentrification</text></g>
<g id="n-migration"><circle cx="1071" cy="1597" r="71" fill="#1cc48b"/><text x="1071" y="1597" font-size="70">migration</text></g>
<g id="n-second-home"><circle cx="1090" cy="1286" r="67" fill="#6c75b8"/><text x="1090" y="1286" font-size="67">second home</text></g>
<g id="n-amenity-migration"><circle cx="1658" cy="1564" r="61" fill="#1fc18a"/><text x="1658" y="1564" font-size="64">amenity migration</text></g>
<g id="n-lifestyle-migration"><circle cx="2233" cy="1234" r="57" fill="#1fc688"/><text x="2233" y="1234" font-size="62">lifestyle migration</text></g>
<g id="n-green-node"><circle cx="858" cy="1625" r="47" fill="#1ec990"/></g>
<g id="n-mobility"><circle cx="938" cy="1209" r="46" fill="#1ccb8b"/><text class="f" x="938" y="1209" font-size="57">mobility</text></g>
<g id="n-displacement"><circle cx="1213" cy="1047" r="37" fill="#1bb98f"/><text x="1213" y="1047" font-size="54">displacement</text></g>
<g id="n-city"><circle cx="1639" cy="748" r="32" fill="#19b592"/><text x="1639" y="748" font-size="54">city</text></g>
<g id="n-urbanization"><circle cx="1840" cy="1768" r="32" fill="#2a98b0"/><text x="1840" y="1768" font-size="53">urbanization</text></g>
<g id="n-life"><circle cx="643" cy="1421" r="32" fill="#18a9a5"/><text x="643" y="1421" class="m">life</text></g>
<g id="n-barcelona"><circle cx="1237" cy="746" r="30" fill="#3a8db0"/><text x="1237" y="746" font-size="52">barcelona</text></g>
<g id="n-green-teal-node"><circle cx="1246" cy="1639" r="30" fill="#1ab89c"/></g>
<g id="n-neighborhood"><circle cx="1683" cy="521" r="28" fill="#1fc487"/><text x="1683" y="521" font-size="51">neighborhood</text></g>
<g id="n-housing"><circle cx="1309" cy="454" r="27" fill="#2f9bb0"/><text x="1309" y="454" class="m">housing</text></g>
<g id="n-political-ecology"><circle cx="2399" cy="1641" r="28" fill="#2b8fb4"/><text x="2399" y="1641" font-size="47">political ecology</text></g>
<g id="n-privilege"><circle cx="2782" cy="1669" r="28" fill="#1aa9b5"/><text x="2782" y="1669" class="m">privilege</text></g>
<g id="n-migrants"><circle cx="2280" cy="1747" r="28" fill="#22cb7c"/><text x="2280" y="1747" class="m">migrants</text></g>
<g id="n-transnationalism"><circle cx="2628" cy="1330" r="27" fill="#1aa8a6"/><text x="2628" y="1330" class="m">transnationalism</text></g>
<g id="n-latin-america"><circle cx="2450" cy="2001" r="27" fill="#2996b3"/><text x="2450" y="2001" class="m">latin america</text></g>
<g id="n-landscape"><circle cx="2301" cy="1569" r="24" fill="#7c70c2"/><text x="2303" y="1569" font-size="45">landscape</text></g>
<g id="n-rural-area"><circle cx="923" cy="423" r="23" fill="#7b70bd"/><text x="919" y="423" font-size="48">rural area</text></g>
<g id="n-geographies"><circle cx="2034" cy="1718" r="23" fill="#17aeaa"/><text class="f s" x="2038" y="1718">geographies</text></g>
<g id="n-spain"><circle cx="1375" cy="807" r="21" fill="#7c6fbe"/><text class="f s" x="1385" y="807">spain</text></g>
<g id="n-purple-node"><circle cx="1068" cy="435" r="15" fill="#7a6fc0"/></g>
<g id="n-yellow-node-a"><circle cx="1092" cy="1005" r="17" fill="#e9df1b"/></g>
<g id="n-yellow-node-b"><circle cx="1064" cy="1450" r="17" fill="#cddc2c"/></g>
<g id="n-urban-geography"><circle cx="1461" cy="196" r="16" fill="#34d27f"/><text class="s" x="1466" y="196">urban geography</text></g>
<g id="n-europe"><circle cx="1183" cy="281" r="17" fill="#7a6fbf"/><text class="s" x="1183" y="281">europe</text></g>
<g id="n-sweden"><circle cx="795" cy="577" r="16" fill="#7b70be"/><text class="s" x="793" y="577">sweden</text></g>
<g id="n-catalonia"><circle cx="1225" cy="600" r="15" fill="#7d72c0"/><text class="s" x="1223" y="599">catalonia</text></g>
<g id="n-london"><circle cx="2039" cy="685" r="17" fill="#2bcf7a"/><text class="s" x="2039" y="685">london</text></g>
<g id="n-policy"><circle cx="982" cy="814" r="13" fill="#a8d94a"/><text class="s" x="982" y="814">policy</text></g>
<g id="n-globalization"><circle cx="1922" cy="811" r="17" fill="#b5de2b"/><text class="s" x="1922" y="811">globalization</text></g>
<g id="n-rural-tourism"><circle cx="531" cy="830" r="18" fill="#3d8fc0"/><text class="s" x="531" y="830">rural tourism</text></g>
<g id="n-owners"><circle cx="807" cy="877" r="17" fill="#22c47e"/><text class="s" x="809" y="877">owners</text></g>
<g id="n-areas"><circle cx="713" cy="1003" r="14" fill="#d4e33a"/><text class="s" x="715" y="1001">areas</text></g>
<g id="n-countryside"><circle cx="1417" cy="996" r="17" fill="#ebd81c"/><text class="f s" x="1496" y="996">countryside</text></g>
<g id="n-creative-enhancement"><circle cx="274" cy="1036" r="16" fill="#c6df3b"/><text class="s" x="274" y="1036">creative enhancement</text></g>
<g id="n-power"><circle cx="2273" cy="1071" r="17" fill="#7b6fc0"/><text class="s" x="2273" y="1071">power</text></g>
<g id="n-creative-destruction"><circle cx="253" cy="1106" r="16" fill="#c9dd3b"/><text class="s" x="253" y="1106">creative destruction</text></g>
<g id="n-population"><circle cx="741" cy="1148" r="19" fill="#3b8dbb"/><text class="s" x="741" y="1148">population</text></g>
<g id="n-culture"><circle cx="1340" cy="1190" r="12" fill="#2aa7a0"/><text class="s" x="1340" y="1188">culture</text></g>
<g id="n-natural-amenity"><circle cx="1632" cy="1204" r="13" fill="#d9e02a"/><text class="s" x="1796" y="1213">natural amenity</text></g>
<g id="n-perspectives"><circle cx="622" cy="1284" r="17" fill="#3a93b9"/><text class="s" x="622" y="1284">perspectives</text></g>
<g id="n-amenity"><circle cx="397" cy="1386" r="17" fill="#e3dd2b"/><text class="s" x="397" y="1386">amenity</text></g>
<g id="n-retirement-migration"><circle cx="2789" cy="1438" r="17" fill="#1ab3a7"/><text class="s" x="2794" y="1438">retirement migration</text></g>
<g id="n-entrepreneurship"><circle cx="351" cy="1524" r="17" fill="#1a9ea8"/><text class="s" x="351" y="1524">entrepreneurship</text></g>
<g id="n-land-use"><circle cx="1970" cy="1569" r="18" fill="#28d46a"/><text class="f s" x="2022" y="1569">land use</text></g>
<g id="n-residential-tourism"><circle cx="2595" cy="1566" r="18" fill="#1c98b0"/><text class="s" x="2593" y="1566">residential tourism</text></g>
<g id="n-income"><circle cx="585" cy="1745" r="12" fill="#d8de30"/><text class="s" x="585" y="1742">income</text></g>
<g id="n-home"><circle cx="743" cy="1758" r="18" fill="#1aa6a6"/><text class="s" x="743" y="1758">home</text></g>
<g id="n-2nd-home-owners"><circle cx="1064" cy="1789" r="17" fill="#ece01c"/><text class="s" x="1066" y="1777">2nd home owners</text></g>
<g id="n-cuenca"><circle cx="2740" cy="1791" r="17" fill="#23c97b"/><text class="s" x="2740" y="1791">cuenca</text></g>
<g id="n-west"><circle cx="879" cy="1896" r="18" fill="#bcd92f"/><text class="s" x="879" y="1896">west</text></g>
<g id="n-rural-in-migration"><circle cx="447" cy="1889" r="16" fill="#18a8a4"/><text class="s" x="447" y="1889">rural in-migration</text></g>
<g id="n-china"><circle cx="1307" cy="1912" r="18" fill="#e8d918"/><text class="s" x="1307" y="1912">china</text></g>
<g id="n-residents"><circle cx="1707" cy="1955" r="18" fill="#ead81e"/><text class="s" x="1707" y="1955">residents</text></g>
<g id="n-south"><circle cx="2259" cy="2025" r="19" fill="#3586b5"/><text class="g s" x="2259" y="2025">south</text></g>
<g id="n-creation"><circle cx="599" cy="2029" r="17" fill="#4fcc4a"/><text class="s" x="599" y="2029">creation</text></g>
<g id="n-touristification"><circle cx="765" cy="2011" r="18" fill="#b8d633"/><text class="f s" x="830" y="2011">touristification</text></g>
<g id="n-consumption"><circle cx="1328" cy="2128" r="17" fill="#edd81c"/><text class="s" x="1415" y="2095">consumption</text></g>
<g id="n-heritage"><circle cx="2408" cy="2198" r="16" fill="#1aa9ad"/><text class="s" x="2408" y="2193">heritage</text></g>
<g id="n-airbnb"><circle cx="3014" cy="252" r="16" fill="#c6dd3a"/><text class="s" x="3016" y="252">airbnb</text></g>
<g id="n-overtourism"><circle cx="2960" cy="327" r="16" fill="#2ccd85"/><text class="s" x="2960" y="327">overtourism</text></g>
<g id="n-historic-district"><circle cx="2803" cy="468" r="17" fill="#6f88c7"/><text class="s" x="2803" y="468">historic district</text></g>
</g>
<g id="legend">
<rect x="2462" y="2186" width="1166" height="175" rx="32" fill="#ffffff" fill-opacity="0.85" stroke="#d6d6d6" stroke-width="3"/>
<rect x="2497" y="2216" width="1092" height="61" fill="url(#vir)" stroke="#8a8a8a" stroke-width="4"/>
<g stroke="#7a7a7a" stroke-width="3">
<line x1="2553" y1="2248" x2="2553" y2="2300"/>
<line x1="2747" y1="2248" x2="2747" y2="2300"/>
<line x1="2943" y1="2248" x2="2943" y2="2300"/>
<line x1="3138" y1="2248" x2="3138" y2="2300"/>
<line x1="3336" y1="2248" x2="3336" y2="2300"/>
<line x1="3530" y1="2248" x2="3530" y2="2300"/>
</g>
<text class="lg" x="2553" y="2328">2017</text>
<text class="lg" x="2747" y="2328">2018</text>
<text class="lg" x="2943" y="2328">2019</text>
<text class="lg" x="3138" y="2328">2020</text>
<text class="lg" x="3336" y="2328">2021</text>
<text class="lg" x="3530" y="2328">2022</text>
</g>
<g id="navigation" class="nav">
<path d="M3461 52V213Q3461 253 3501 253H3590Q3630 253 3630 213V52"/>
<path d="M3545 54L3563 84H3527Z"/>
<path d="M3477 117L3512 100V135Z"/>
<path d="M3615 117L3580 100V135Z"/>
<path d="M3528 152H3564L3546 186Z"/>
<rect x="3484" y="213" width="37" height="15"/>
<path d="M3583 202H3595V214H3607V226H3595V238H3583V226H3571V214H3583Z"/>
</g>
</svg>
